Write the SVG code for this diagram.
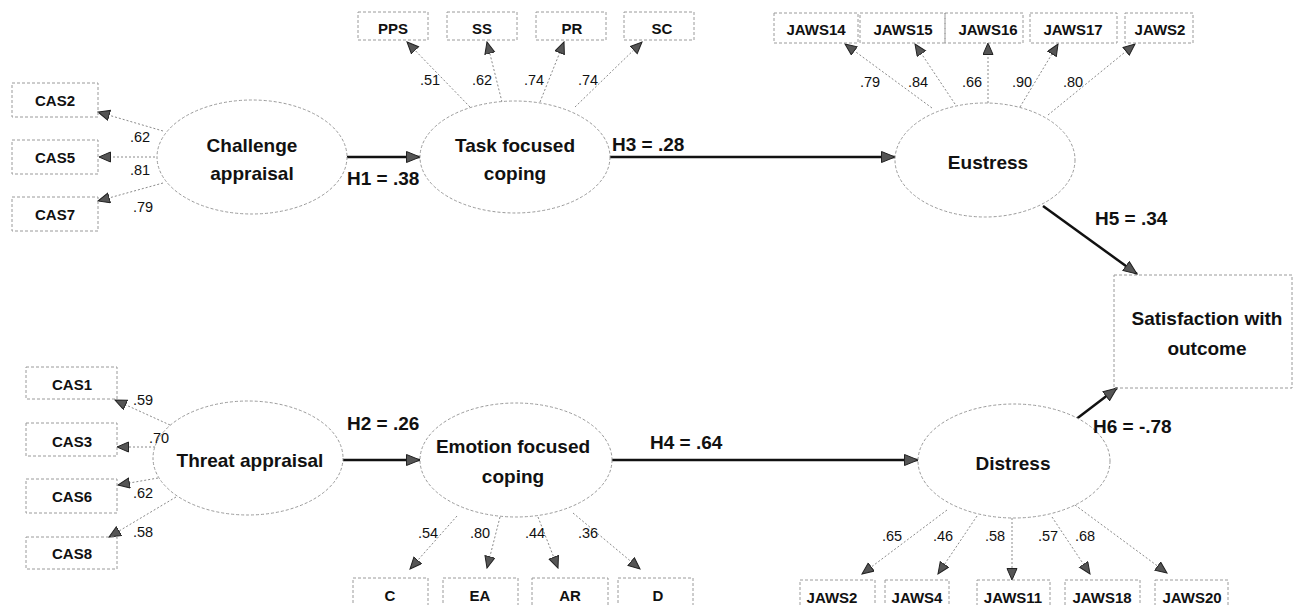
<svg xmlns="http://www.w3.org/2000/svg" width="1304" height="605" viewBox="0 0 1304 605">
<style>
.bg{fill:#fff}
.lv{fill:#fff;stroke:#9a9a9a;stroke-width:1;stroke-dasharray:3 2}
.ob{fill:none;stroke:#9a9a9a;stroke-width:1;stroke-dasharray:3 2}
.ld{stroke:#8a8a8a;stroke-width:1;stroke-dasharray:2 2;fill:none;marker-end:url(#ah)}
.pa{stroke:#111;stroke-width:2.5;fill:none;marker-end:url(#ahb)}
.t1{font-family:"Liberation Sans",Arial,sans-serif;font-weight:bold;font-size:19px;fill:#111;text-anchor:middle}
.t2{font-family:"Liberation Sans",Arial,sans-serif;font-weight:bold;font-size:15px;fill:#111;text-anchor:middle}
.t3{font-family:"Liberation Sans",Arial,sans-serif;font-size:14.5px;fill:#111}
.t4{font-family:"Liberation Sans",Arial,sans-serif;font-weight:bold;font-size:19px;fill:#111}
</style>
<defs>
<marker id="ah" markerUnits="userSpaceOnUse" markerWidth="13" markerHeight="12" refX="12" refY="5.5" orient="auto">
<path d="M0.5,0.5 L12,5.5 L0.5,10.5 z" fill="#555" stroke="#222" stroke-width="1"/>
</marker>
<marker id="ahb" markerUnits="userSpaceOnUse" markerWidth="15" markerHeight="13" refX="14" refY="6" orient="auto">
<path d="M0.5,0.5 L14,6 L0.5,11.5 z" fill="#555" stroke="#222" stroke-width="1"/>
</marker>
</defs>
<rect class="bg" x="0" y="0" width="1304" height="605"/>

<g id="connectors">
<line class="ld" x1="163" y1="131" x2="98" y2="112"/>
<line class="ld" x1="155" y1="157" x2="99" y2="157"/>
<line class="ld" x1="163" y1="183" x2="98" y2="201"/>
<line class="ld" x1="470" y1="107" x2="407" y2="42"/>
<line class="ld" x1="502" y1="102" x2="487" y2="42"/>
<line class="ld" x1="540" y1="102" x2="564" y2="42"/>
<line class="ld" x1="575" y1="107" x2="642" y2="42"/>
<line class="ld" x1="932" y1="108" x2="845" y2="44"/>
<line class="ld" x1="955" y1="104" x2="915" y2="44"/>
<line class="ld" x1="988" y1="103" x2="988" y2="43"/>
<line class="ld" x1="1020" y1="107" x2="1058" y2="44"/>
<line class="ld" x1="1048" y1="115" x2="1135" y2="44"/>
<line class="ld" x1="170" y1="425" x2="115" y2="400"/>
<line class="ld" x1="155" y1="447" x2="117" y2="447"/>
<line class="ld" x1="158" y1="478" x2="118" y2="485"/>
<line class="ld" x1="176" y1="497" x2="109" y2="537"/>
<line class="ld" x1="457" y1="516" x2="410" y2="569"/>
<line class="ld" x1="500" y1="517" x2="487" y2="568"/>
<line class="ld" x1="538" y1="517" x2="558" y2="568"/>
<line class="ld" x1="573" y1="513" x2="640" y2="569"/>
<line class="ld" x1="947" y1="510" x2="862" y2="574"/>
<line class="ld" x1="977" y1="516" x2="938" y2="574"/>
<line class="ld" x1="1012" y1="518" x2="1012" y2="580"/>
<line class="ld" x1="1052" y1="517" x2="1090" y2="574"/>
<line class="ld" x1="1075" y1="505" x2="1167" y2="573"/>
<line class="pa" x1="345" y1="157" x2="420" y2="157"/>
<line class="pa" x1="610" y1="157" x2="895" y2="157"/>
<line class="pa" x1="343" y1="460" x2="420" y2="460"/>
<line class="pa" x1="612" y1="460" x2="918" y2="460"/>
<line class="pa" x1="1043" y1="206" x2="1137" y2="274"/>
<line class="pa" x1="1075" y1="420" x2="1117" y2="388"/>
</g>

<g id="challenge"><ellipse class="lv" cx="252" cy="157" rx="95" ry="57"/><text class="t1" x="252" y="152">Challenge</text><text class="t1" x="252" y="180">appraisal</text></g>
<g id="task"><ellipse class="lv" cx="515" cy="157" rx="95" ry="56"/><text class="t1" x="515" y="152">Task focused</text><text class="t1" x="515" y="180">coping</text></g>
<g id="eustress"><ellipse class="lv" cx="985" cy="160" rx="90" ry="57"/><text class="t1" x="988" y="169">Eustress</text></g>
<g id="threat"><ellipse class="lv" cx="248" cy="458" rx="95" ry="57"/><text class="t1" x="250" y="467">Threat appraisal</text></g>
<g id="emotion"><ellipse class="lv" cx="516" cy="460" rx="96" ry="57"/><text class="t1" x="513" y="453">Emotion focused</text><text class="t1" x="513" y="483">coping</text></g>
<g id="distress"><ellipse class="lv" cx="1014" cy="461" rx="96" ry="57"/><text class="t1" x="1013" y="470">Distress</text></g>
<g id="satisfaction"><rect class="ob" x="1114" y="275" width="178" height="113"/><text class="t1" x="1207" y="325">Satisfaction with</text><text class="t1" x="1207" y="355">outcome</text></g>

<g id="CAS2"><rect class="ob" x="12" y="83" width="86" height="34"/><text class="t2" x="55" y="106">CAS2</text></g>
<g id="CAS5"><rect class="ob" x="12" y="140" width="86" height="34"/><text class="t2" x="55" y="163">CAS5</text></g>
<g id="CAS7"><rect class="ob" x="12" y="197" width="86" height="34"/><text class="t2" x="55" y="220">CAS7</text></g>

<g id="PPS"><rect class="ob" x="358" y="12" width="70" height="28"/><text class="t2" x="393" y="34">PPS</text></g>
<g id="SS"><rect class="ob" x="447" y="12" width="70" height="28"/><text class="t2" x="482" y="34">SS</text></g>
<g id="PR"><rect class="ob" x="536" y="12" width="70" height="28"/><text class="t2" x="572" y="34">PR</text></g>
<g id="SC"><rect class="ob" x="624" y="12" width="70" height="28"/><text class="t2" x="662" y="34">SC</text></g>

<g id="JAWS14"><rect class="ob" x="774" y="13" width="84" height="30"/><text class="t2" x="816" y="35">JAWS14</text></g>
<g id="JAWS15"><rect class="ob" x="860" y="13" width="85" height="30"/><text class="t2" x="903" y="35">JAWS15</text></g>
<g id="JAWS16"><rect class="ob" x="945" y="13" width="78" height="30"/><text class="t2" x="988" y="35">JAWS16</text></g>
<g id="JAWS17"><rect class="ob" x="1030" y="13" width="87" height="30"/><text class="t2" x="1073" y="35">JAWS17</text></g>
<g id="JAWS2top"><rect class="ob" x="1125" y="13" width="68" height="30"/><text class="t2" x="1160" y="35">JAWS2</text></g>

<g id="CAS1"><rect class="ob" x="26" y="367" width="91" height="32"/><text class="t2" x="72" y="390">CAS1</text></g>
<g id="CAS3"><rect class="ob" x="26" y="423" width="91" height="33"/><text class="t2" x="72" y="447">CAS3</text></g>
<g id="CAS6"><rect class="ob" x="26" y="479" width="91" height="34"/><text class="t2" x="72" y="502">CAS6</text></g>
<g id="CAS8"><rect class="ob" x="26" y="537" width="91" height="32"/><text class="t2" x="72" y="559">CAS8</text></g>

<g id="C"><rect class="ob" x="353" y="578" width="75" height="30"/><text class="t2" x="390" y="601">C</text></g>
<g id="EA"><rect class="ob" x="443" y="578" width="75" height="30"/><text class="t2" x="480" y="601">EA</text></g>
<g id="AR"><rect class="ob" x="532" y="578" width="76" height="30"/><text class="t2" x="570" y="601">AR</text></g>
<g id="D"><rect class="ob" x="618" y="578" width="75" height="30"/><text class="t2" x="658" y="601">D</text></g>

<g id="JAWS2bot"><rect class="ob" x="800" y="580" width="75" height="30"/><text class="t2" x="832" y="603">JAWS2</text></g>
<g id="JAWS4"><rect class="ob" x="885" y="580" width="64" height="30"/><text class="t2" x="917" y="603">JAWS4</text></g>
<g id="JAWS11"><rect class="ob" x="977" y="580" width="73" height="30"/><text class="t2" x="1013" y="603">JAWS11</text></g>
<g id="JAWS18"><rect class="ob" x="1065" y="580" width="75" height="30"/><text class="t2" x="1102" y="603">JAWS18</text></g>
<g id="JAWS20"><rect class="ob" x="1155" y="580" width="73" height="30"/><text class="t2" x="1192" y="603">JAWS20</text></g>

<g id="connector-labels">
<text class="t4" x="347" y="185">H1 = .38</text>
<text class="t4" x="612" y="151">H3 = .28</text>
<text class="t4" x="347" y="430">H2 = .26</text>
<text class="t4" x="650" y="449">H4 = .64</text>
<text class="t4" x="1095" y="225">H5 = .34</text>
<text class="t4" x="1093" y="433">H6 = -.78</text>
<text class="t3" x="130" y="142">.62</text>
<text class="t3" x="130" y="175">.81</text>
<text class="t3" x="133" y="212">.79</text>
<text class="t3" x="420" y="85">.51</text>
<text class="t3" x="472" y="85">.62</text>
<text class="t3" x="524" y="85">.74</text>
<text class="t3" x="578" y="85">.74</text>
<text class="t3" x="860" y="87">.79</text>
<text class="t3" x="908" y="87">.84</text>
<text class="t3" x="962" y="87">.66</text>
<text class="t3" x="1012" y="87">.90</text>
<text class="t3" x="1063" y="87">.80</text>
<text class="t3" x="133" y="405">.59</text>
<text class="t3" x="149" y="443">.70</text>
<text class="t3" x="133" y="498">.62</text>
<text class="t3" x="133" y="537">.58</text>
<text class="t3" x="418" y="538">.54</text>
<text class="t3" x="470" y="538">.80</text>
<text class="t3" x="525" y="538">.44</text>
<text class="t3" x="578" y="538">.36</text>
<text class="t3" x="882" y="541">.65</text>
<text class="t3" x="933" y="541">.46</text>
<text class="t3" x="985" y="541">.58</text>
<text class="t3" x="1038" y="541">.57</text>
<text class="t3" x="1075" y="541">.68</text>
</g>
</svg>
